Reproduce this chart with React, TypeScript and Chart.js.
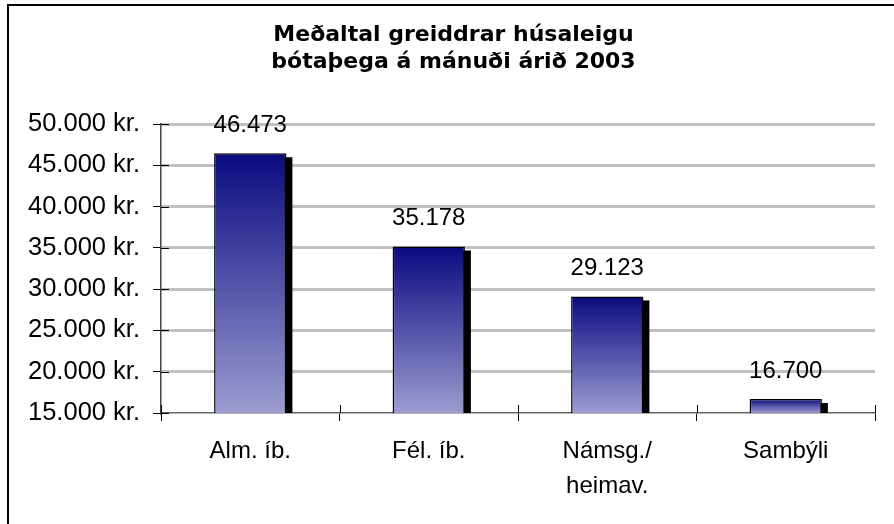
import React, { useEffect, useRef } from 'react';
import { Chart, registerables } from 'chart.js';

Chart.register(...registerables);

const titleLines = ['Meðaltal greiddrar húsaleigu', 'bótaþega á mánuði árið 2003'];
const categories = [['Alm. íb.'], ['Fél. íb.'], ['Námsg./', 'heimav.'], ['Sambýli']];
const values = [46473, 35178, 29123, 16700];
const yMin = 15000;
const yMax = 50000;
const yStep = 5000;
const currency = 'kr.';

const fmt = (v: number) => String(Math.round(v)).replace(/\B(?=(\d{3})+(?!\d))/g, '.');

const FONT = "'Liberation Sans', Arial, sans-serif";

const barFill = (c: any) => {
  const chart = c.chart;
  const area = chart.chartArea;
  if (!area || c.dataIndex === undefined) return '#5050a0';
  const y = chart.scales.y.getPixelForValue(values[c.dataIndex]);
  const g = chart.ctx.createLinearGradient(0, y, 0, area.bottom);
  g.addColorStop(0, '#0a0a80');
  g.addColorStop(1, '#9c9cd0');
  return g;
};

const decor = {
  id: 'decor',
  afterLayout(chart: any) {
    if (chart.titleBlock) chart.titleBlock.left = 32;
  },
  beforeDraw(chart: any) {
    const c = chart.ctx;
    c.save();
    c.fillStyle = '#fff';
    c.fillRect(0, 0, chart.width, chart.height);
    c.strokeStyle = '#000';
    c.lineWidth = 2;
    c.strokeRect(8, 5, 1000, 1000);
    c.restore();
  },
  beforeDatasetsDraw(chart: any) {
    const meta = chart.getDatasetMeta(0);
    const ctx = chart.ctx;
    const bottom = chart.chartArea.bottom;
    ctx.save();
    meta.data.forEach((el: any) => {
      const { x, y, base, width } = el.getProps(['x', 'y', 'base', 'width'], true);
      const b = Math.min(base, bottom);
      ctx.fillStyle = '#000';
      ctx.fillRect(x - width / 2 + 6, y + 4, width, b - y - 4);
    });
    ctx.restore();
  },
  afterDatasetsDraw(chart: any) {
    const ctx = chart.ctx;
    const meta = chart.getDatasetMeta(0);
    const xs = chart.scales.x;
    const ys = chart.scales.y;
    ctx.save();
    ctx.strokeStyle = '#000';
    ctx.lineWidth = 1;
    ys.ticks.forEach((t: any) => {
      const py = Math.round(ys.getPixelForValue(t.value)) + 0.5;
      ctx.beginPath();
      ctx.moveTo(ys.right, py);
      ctx.lineTo(ys.right + 8, py);
      ctx.stroke();
    });
    const n = categories.length;
    for (let i = 0; i <= n; i++) {
      const px = Math.round(xs.left + (i * (xs.right - xs.left)) / n) + 0.5;
      ctx.beginPath();
      ctx.moveTo(px, xs.top - 8);
      ctx.lineTo(px, xs.top);
      ctx.stroke();
    }
    ctx.fillStyle = '#000';
    ctx.font = `24px ${FONT}`;
    ctx.textAlign = 'center';
    ctx.textBaseline = 'middle';
    meta.data.forEach((el: any, i: number) => {
      const { x, y } = el.getProps(['x', 'y'], true);
      ctx.fillText(fmt(values[i]), x, y - 28);
    });
    ctx.restore();
  },
};

export default function App() {
  const ref = useRef<HTMLCanvasElement | null>(null);
  useEffect(() => {
    if (!ref.current) return;
    const chart = new Chart(ref.current, {
      type: 'bar',
      data: {
        labels: categories,
        datasets: [
          {
            data: values,
            backgroundColor: barFill,
            borderColor: '#000',
            borderWidth: 1.5,
            barPercentage: 0.405,
            categoryPercentage: 1,
          },
        ],
      },
      options: {
        responsive: false,
        animation: false,
        layout: { padding: { top: 4, right: 19, left: 0, bottom: 0 } },
        plugins: {
          legend: { display: false },
          tooltip: { enabled: false },
          title: {
            display: true,
            text: titleLines,
            color: '#000',
            font: { family: "'DejaVu Sans', sans-serif", size: 22, weight: 'bold', lineHeight: 1.23 },
            padding: { top: 18, bottom: 48 },
          },
        },
        scales: {
          x: {
            afterFit: (s: any) => {
              s.height = 111;
            },
            grid: {
              offset: true,
              drawOnChartArea: false,
              drawTicks: true,
              tickLength: 8,
              color: '#000',
              tickColor: '#000',
            },
            border: { color: '#666', width: 1.5 },
            ticks: {
              color: '#000',
              font: { family: FONT, size: 24, lineHeight: 1.45 },
              padding: 13,
              autoSkip: false,
              maxRotation: 0,
            },
          },
          y: {
            min: yMin,
            max: yMax,
            afterFit: (s: any) => {
              s.width = 161;
            },
            grid: {
              color: (c: any) => (c.tick && c.tick.value === yMin ? 'rgba(0,0,0,0)' : '#c0c0c0'),
              lineWidth: 3,
              tickColor: '#000',
              tickWidth: 1,
              tickLength: 8,
            },
            border: { color: '#444', width: 1.5 },
            ticks: {
              stepSize: yStep,
              color: '#000',
              font: { family: FONT, size: 25.5 },
              padding: 13,
              callback: (v: any) => `${fmt(Number(v))} ${currency}`,
            },
          },
        },
      },
      plugins: [decor],
    });
    return () => chart.destroy();
  }, []);
  return (
    <div style={{ position: 'absolute', left: 0, top: 0, width: 894, height: 524, background: '#fff' }}>
      <canvas ref={ref} width={894} height={524} style={{ display: 'block' }} />
    </div>
  );
}
